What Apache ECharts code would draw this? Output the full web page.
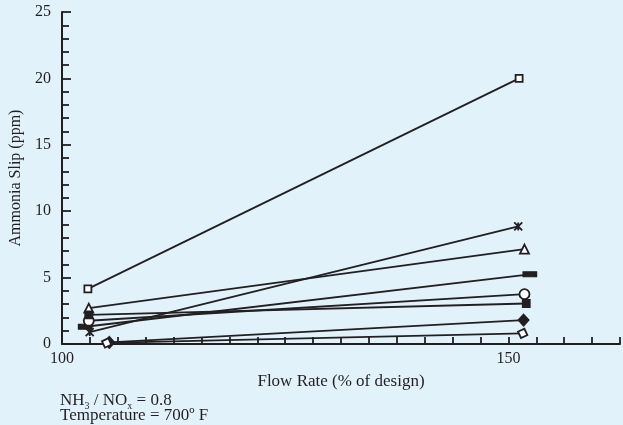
<!DOCTYPE html>
<html><head><meta charset="utf-8">
<script src="https://cdn.jsdelivr.net/npm/echarts@6/dist/echarts.min.js"></script>
<style>html,body{margin:0;padding:0;background:#e1f2fb}#c{width:623px;height:425px}</style>
</head><body><div id="c"></div>
<script>
// Data (x = flow rate % of design, y = ammonia slip ppm)
const openSquareX = [102.9, 151.2];   const openSquareY = [4.15, 20.0];
const crossX = [103.1, 151.1];        const crossY = [0.9, 8.85];
const triangleX = [103.0, 151.8];     const triangleY = [2.7, 7.15];
const barX = [102.6, 152.4];          const barY = [1.3, 5.25];
const circleX = [103.0, 151.8];       const circleY = [1.75, 3.75];
const filledSquareX = [103.0, 152.0]; const filledSquareY = [2.2, 3.05];
const filledDiamondX = [105.3, 151.7];const filledDiamondY = [0.12, 1.8];
const openDiamondX = [105.0, 151.6];  const openDiamondY = [0.08, 0.8];
const xTickLabels = [100, 150];
const yTickLabels = [0, 5, 10, 15, 20, 25];

const INK = '#231f20';
const FONT = 'Liberation Serif';
function pairs(xs, ys){ return xs.map((x,i)=>[x, ys[i]]); }
function mk(name, xs, ys, symbol, size, fill, extra){
  return Object.assign({
    name, type:'line', data: pairs(xs, ys), symbol, symbolSize: size,
    showAllSymbol: true, animation:false,
    lineStyle:{color:INK, width:1.8},
    itemStyle:{color:fill, borderColor:INK, borderWidth:1.8},
    z: 3
  }, extra||{});
}
const chart = echarts.init(document.getElementById('c'));
chart.setOption({
  backgroundColor:'#e1f2fb',
  animation:false,
  grid:{left:62, top:12, right:0, bottom:81},
  xAxis:{
    type:'value', min:100, max:162.5, interval:3.125,
    name:'Flow Rate (% of design)', nameLocation:'middle', nameGap:29,
    nameTextStyle:{fontFamily:FONT, fontSize:17, color:INK},
    axisLine:{lineStyle:{color:INK, width:2}},
    axisTick:{inside:true, length:7, lineStyle:{color:INK, width:1.8}},
    axisLabel:{fontFamily:FONT, fontSize:16, color:INK, margin:7,
      formatter:v=> xTickLabels.indexOf(v)>=0 ? String(v) : ''},
    splitLine:{show:false}
  },
  yAxis:{
    type:'value', min:0, max:25, interval:5,
    name:'Ammonia Slip (ppm)', nameLocation:'middle', nameGap:38,
    nameTextStyle:{fontFamily:FONT, fontSize:16, color:INK},
    axisLine:{show:true, lineStyle:{color:INK, width:2}},
    axisTick:{inside:true, length:9, lineStyle:{color:INK, width:1.8}},
    minorTick:{show:true, splitNumber:5, length:7, lineStyle:{color:INK, width:1.8}},
    axisLabel:{fontFamily:FONT, fontSize:16, color:INK, margin:11,
      formatter:v=> yTickLabels.indexOf(v)>=0 ? String(v) : ''},
    splitLine:{show:false}
  },
  series:[
    mk('open square', openSquareX, openSquareY, 'rect', 7, '#ffffff'),
    mk('cross', crossX, crossY, 'path://M0,0L10,10M10,0L0,10M5,0L5,10', 8, INK),
    mk('triangle', triangleX, triangleY, 'triangle', 9, '#ffffff'),
    mk('bar', barX, barY, 'rect', [12,5], INK),
    mk('circle', circleX, circleY, 'circle', 10, '#ffffff'),
    mk('filled square', filledSquareX, filledSquareY, 'rect', 7, INK),
    mk('filled diamond', filledDiamondX, filledDiamondY, 'diamond', [10,11], INK),
    mk('open diamond', openDiamondX, openDiamondY, 'rect', 7, '#ffffff', {symbolRotate:25})
  ],
  graphic:[
    {type:'text', left:60, top:390, style:{
      text:'{a|NH}{s|3}{a| / NO}{s|x}{a| = 0.8}',
      rich:{a:{fontFamily:FONT, fontSize:17, fill:INK, lineHeight:20},
            s:{fontFamily:FONT, fontSize:10, fill:INK, lineHeight:20, padding:[11,0,0,0]}}
    }},
    {type:'text', left:60, top:407, style:{text:'Temperature = 700º F', fontFamily:FONT, fontSize:17, fill:INK}}
  ]
});
</script></body></html>
